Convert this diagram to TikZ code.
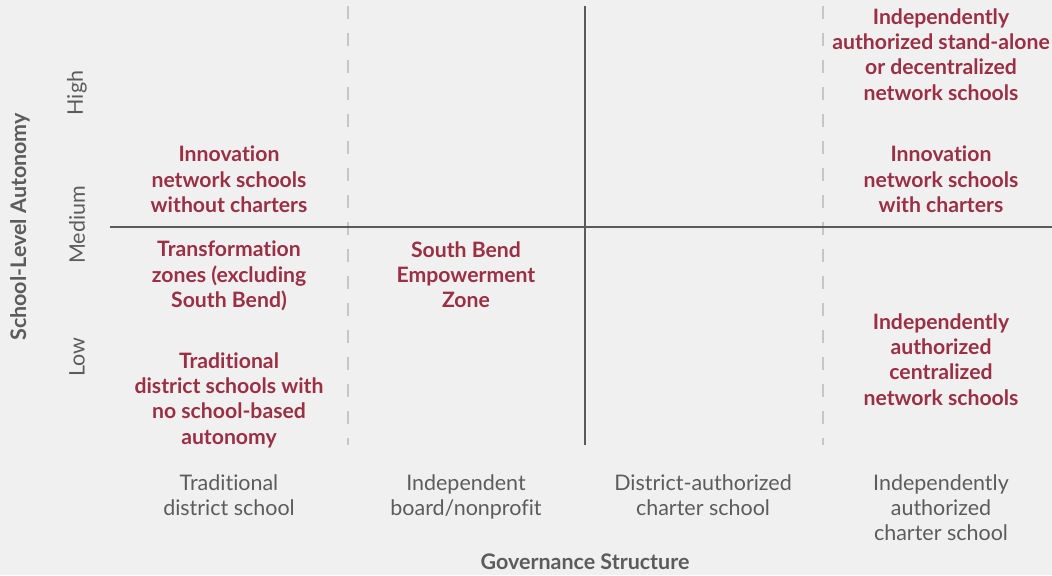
\documentclass[tikz,border=0pt]{standalone}
\usepackage{fontspec}
\setmainfont{Lato}[Ligatures={NoCommon}]
\definecolor{bg}{HTML}{F0F0F0}
\definecolor{wine}{HTML}{9B3045}
\definecolor{txtgray}{HTML}{5C5C5C}
\definecolor{axisgray}{HTML}{5A5A5A}
\definecolor{dashgray}{HTML}{C6C6C6}
\tikzset{
  cell/.style={text=wine, font=\fontsize{15.9}{19}\selectfont\bfseries, align=center, inner sep=0pt},
  cat/.style={text=txtgray, font=\fontsize{16.1}{19}\selectfont, align=center, inner sep=0pt},
  axtitle/.style={text=txtgray, font=\fontsize{16.1}{19}\selectfont\bfseries, inner sep=0pt},
  mainline/.style={draw=axisgray, line width=2.2pt},
  dashline/.style={draw=dashgray, line width=1.6pt, dash pattern=on 10pt off 10.25pt}
}
\begin{document}
\begin{tikzpicture}[x=0.75pt,y=-0.75pt]
\fill[bg] (0,0) rectangle (1052,575);
\useasboundingbox (0,0) rectangle (1052,575);
% lines
\coordinate (hl) at (110,227);
\coordinate (hr) at (1052,227);
\coordinate (vt) at (585,6);
\coordinate (vb) at (585,445);
\coordinate (d1t) at (348,6);
\coordinate (d1b) at (348,445);
\coordinate (d2t) at (823,6);
\coordinate (d2b) at (823,445);
\draw[dashline] (d1t) -- (d1b);
\draw[dashline] (d2t) -- (d2b);
\draw[mainline] (hl) -- (hr);
\draw[mainline] (vt) -- (vb);
% axis titles
\node[axtitle, rotate=90] (ytitle) at (20,227) {School-Level Autonomy};
\node[axtitle] (xtitle) at (585,562) {Governance Structure};
% y categories
\node[cat, rotate=90] (high) at (77,93) {High};
\node[cat, rotate=90] (medium) at (77,225) {Medium};
\node[cat, rotate=90] (low) at (77,357) {Low};
% x categories
\node[cat, anchor=north] (c1) at (229,474) {Traditional\\district school};
\node[cat, anchor=north] (c2) at (466,474) {Independent\\board/nonprofit};
\node[cat, anchor=north] (c3) at (703,474) {District-authorized\\charter school};
\node[cat, anchor=north] (c4) at (941,474) {Independently\\authorized\\charter school};
% cells
\node[cell, anchor=north] (a1) at (229,146) {Innovation\\network schools\\without charters};
\node[cell, anchor=north] (a2) at (229,241) {Transformation\\zones (excluding\\South Bend)};
\node[cell, anchor=north] (a3) at (229,352) {Traditional\\district schools with\\no school-based\\autonomy};
\node[cell, anchor=north] (b1) at (466,241) {South Bend\\Empowerment\\Zone};
\node[cell, anchor=north] (d1) at (941,8) {Independently\\authorized stand-alone\\or decentralized\\network schools};
\node[cell, anchor=north] (d2) at (941,146) {Innovation\\network schools\\with charters};
\node[cell, anchor=north] (d3) at (941,313) {Independently\\authorized\\centralized\\network schools};
\end{tikzpicture}
\end{document}
